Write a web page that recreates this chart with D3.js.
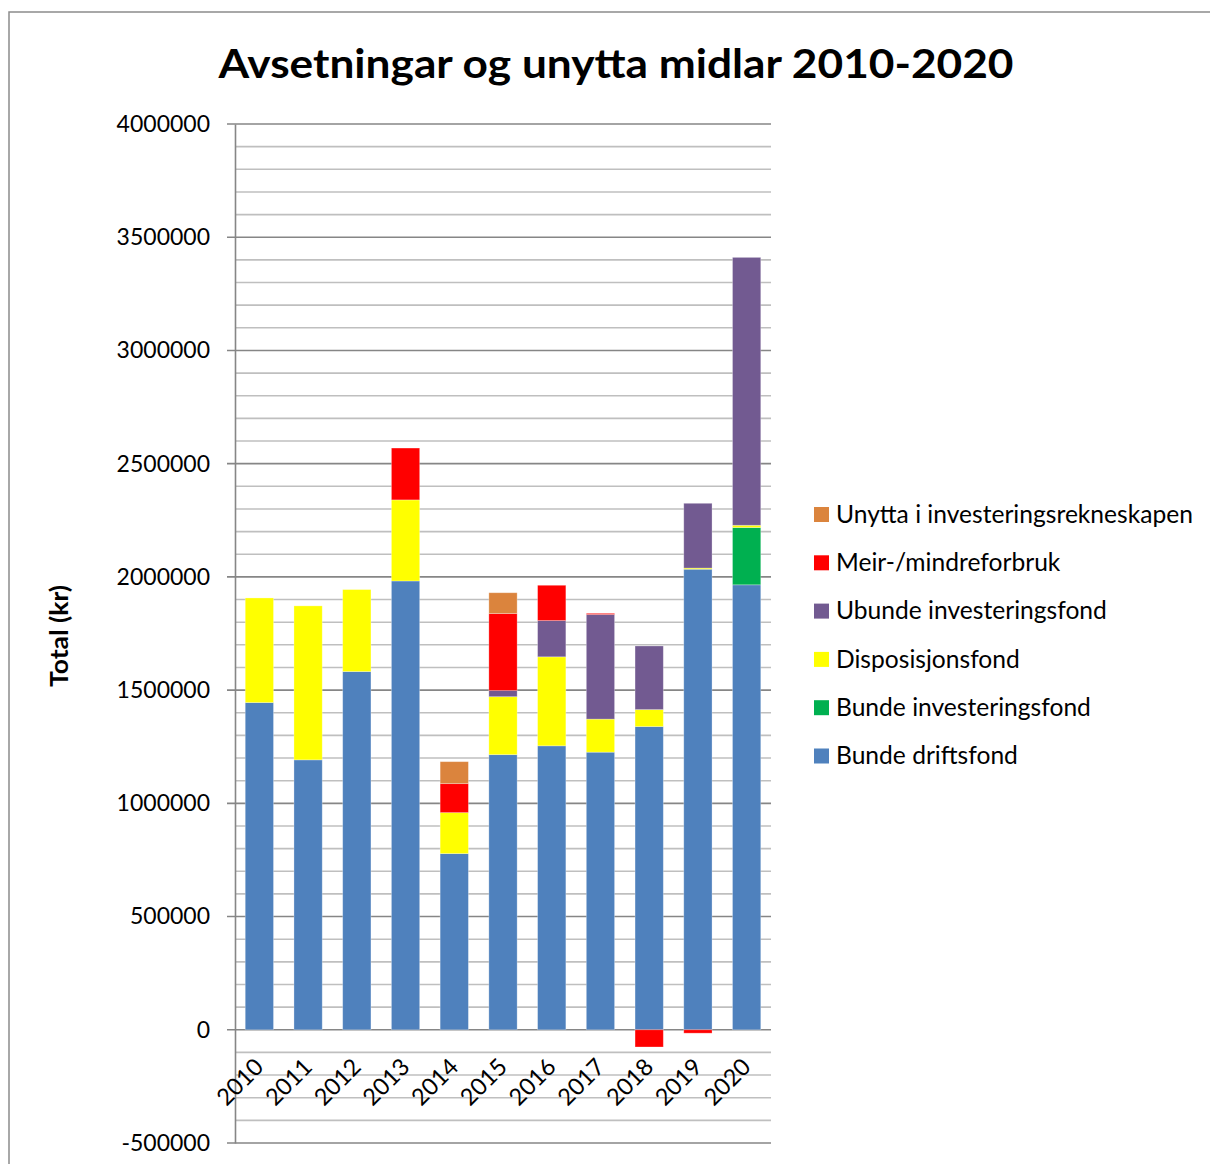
<!DOCTYPE html>
<html>
<head>
<meta charset="utf-8">
<script src="https://cdn.jsdelivr.net/npm/d3@7"></script>
<style>
  body { margin: 0; background: #fff; }
  text { font-family: Lato, "Open Sans", sans-serif; fill: #000; }
</style>
</head>
<body>
<div id="chart"></div>
<script>
// data
const years = ["2010","2011","2012","2013","2014","2015","2016","2017","2018","2019","2020"]
const bundeDriftsfond = [1445000, 1192000, 1582000, 1982000, 778000, 1215000, 1254000, 1226000, 1339000, 2034000, 1965000]
const bundeInvesteringsfond = [0, 0, 0, 0, 0, 0, 0, 0, 0, 0, 253000]
const disposisjonsfond = [462000, 680000, 362000, 358000, 181000, 256000, 393000, 146000, 75000, 5000, 10000]
const ubundeInvesteringsfond = [0, 0, 0, 0, 0, 27000, 160000, 462000, 281000, 286000, 1183000]
const meirMindreforbruk = [0, 0, 0, 229000, 128000, 340000, 156000, 5000, -76000, -15000, 0]
const unytta = [0, 0, 0, 0, 97000, 92000, 0, 0, 0, 0, 0]

const seriesNames = ["Bunde driftsfond", "Bunde investeringsfond", "Disposisjonsfond", "Ubunde investeringsfond", "Meir-/mindreforbruk", "Unytta i investeringsrekneskapen"]
const seriesValues = [bundeDriftsfond, bundeInvesteringsfond, disposisjonsfond, ubundeInvesteringsfond, meirMindreforbruk, unytta]
const seriesColors = ["#4F81BD", "#00B050", "#FFFF00", "#725A91", "#FF0000", "#DB843D"]
const yTicks = d3.range(-500000, 4000001, 500000)
const yMinor = d3.range(-500000, 4000001, 100000)

const width = 1210
const height = 1164
const margin = { top: 124, bottom: 21, left: 235, right: 439 }

const svg = d3.select("div#chart").append("svg").attr("width", width).attr("height", height)

// chart border
svg.append("rect").attr("x", 9).attr("y", 12).attr("width", 1210).attr("height", 1170)
    .attr("fill", "none").attr("stroke", "#8c8c8c").attr("stroke-width", 1.5)

const table = years.map((yr, i) => {
    const row = { year: yr }
    seriesNames.forEach((s, k) => row[s] = seriesValues[k][i])
    return row
})

const x = d3.scaleBand().domain(years).range([margin.left, width - margin.right]).paddingInner(0.42).paddingOuter(0.21)
const y = d3.scaleLinear().domain([-500000, 4000000]).range([height - margin.bottom, margin.top])

// gridlines
const gridGroup = svg.append("g").attr("class", "gridGroup")
gridGroup.selectAll("line.minor").data(yMinor.filter(v => v % 500000 !== 0)).join("line")
    .attr("class", "minor")
    .attr("x1", margin.left).attr("x2", width - margin.right)
    .attr("y1", d => y(d)).attr("y2", d => y(d))
    .attr("stroke", "#bfbfbf").attr("stroke-width", 1.6)
gridGroup.selectAll("line.major").data(yTicks).join("line")
    .attr("class", "major")
    .attr("x1", margin.left - 8).attr("x2", width - margin.right)
    .attr("y1", d => y(d)).attr("y2", d => y(d))
    .attr("stroke", "#868686").attr("stroke-width", 1.6)

// y axis
const yAxis = d3.axisLeft(y).tickValues(yTicks).tickSize(0).tickPadding(25).tickFormat(d => String(d))
const yAxisGroup = svg.append("g").attr("transform", `translate(${margin.left}, 0)`).call(yAxis)
yAxisGroup.select(".domain").attr("stroke", "#868686").attr("stroke-width", 1.6)
yAxisGroup.selectAll("text").attr("font-size", 23).attr("font-family", "Lato")

// bars
const stack = d3.stack().keys(seriesNames).offset(d3.stackOffsetDiverging)
const stacked = stack(table)
const elementGroup = svg.append("g").attr("class", "elementGroup")
elementGroup.selectAll("g").data(stacked).join("g")
    .attr("fill", (d, i) => seriesColors[i])
    .selectAll("rect").data(d => d.filter(p => p[1] !== p[0])).join("rect")
    .attr("x", d => x(d.data.year))
    .attr("width", x.bandwidth())
    .attr("y", d => y(Math.max(d[0], d[1])))
    .attr("height", d => Math.abs(y(d[0]) - y(d[1])))
    .attr("stroke", "#ffffff").attr("stroke-opacity", 0.35).attr("stroke-width", 0.8)

// x labels
const xLabels = svg.append("g").attr("class", "xLabels")
xLabels.selectAll("text").data(years).join("text")
    .attr("transform", d => `translate(${x(d) + x.bandwidth() / 2 - 6}, ${y(0) + 27}) rotate(-45)`)
    .attr("text-anchor", "end")
    .attr("dy", "0.7em")
    .attr("font-size", 23.5)
    .text(d => d)

// title
svg.append("text").attr("x", 616).attr("y", 78).attr("text-anchor", "middle")
    .attr("font-size", 40).attr("font-weight", "bold")
    .attr("textLength", 795).attr("lengthAdjust", "spacingAndGlyphs")
    .text("Avsetningar og unytta midlar 2010-2020")

// y axis title
svg.append("text").attr("transform", "translate(68, 636) rotate(-90)").attr("text-anchor", "middle")
    .attr("font-size", 24).attr("font-weight", "bold")
    .attr("textLength", 102).attr("lengthAdjust", "spacingAndGlyphs")
    .text("Total (kr)")

// legend (reverse order)
const legend = svg.append("g").attr("class", "legend")
const legendItems = seriesNames.map((s, i) => ({ name: s, color: seriesColors[i] })).reverse()
const lg = legend.selectAll("g").data(legendItems).join("g")
    .attr("transform", (d, i) => `translate(814, ${514 + i * 48.3})`)
lg.append("rect").attr("x", 0).attr("y", -7).attr("width", 15).attr("height", 15).attr("fill", d => d.color)
lg.append("text").attr("x", 22).attr("dy", "0.36em").attr("font-size", 24.6).text(d => d.name)
</script>
</body>
</html>
